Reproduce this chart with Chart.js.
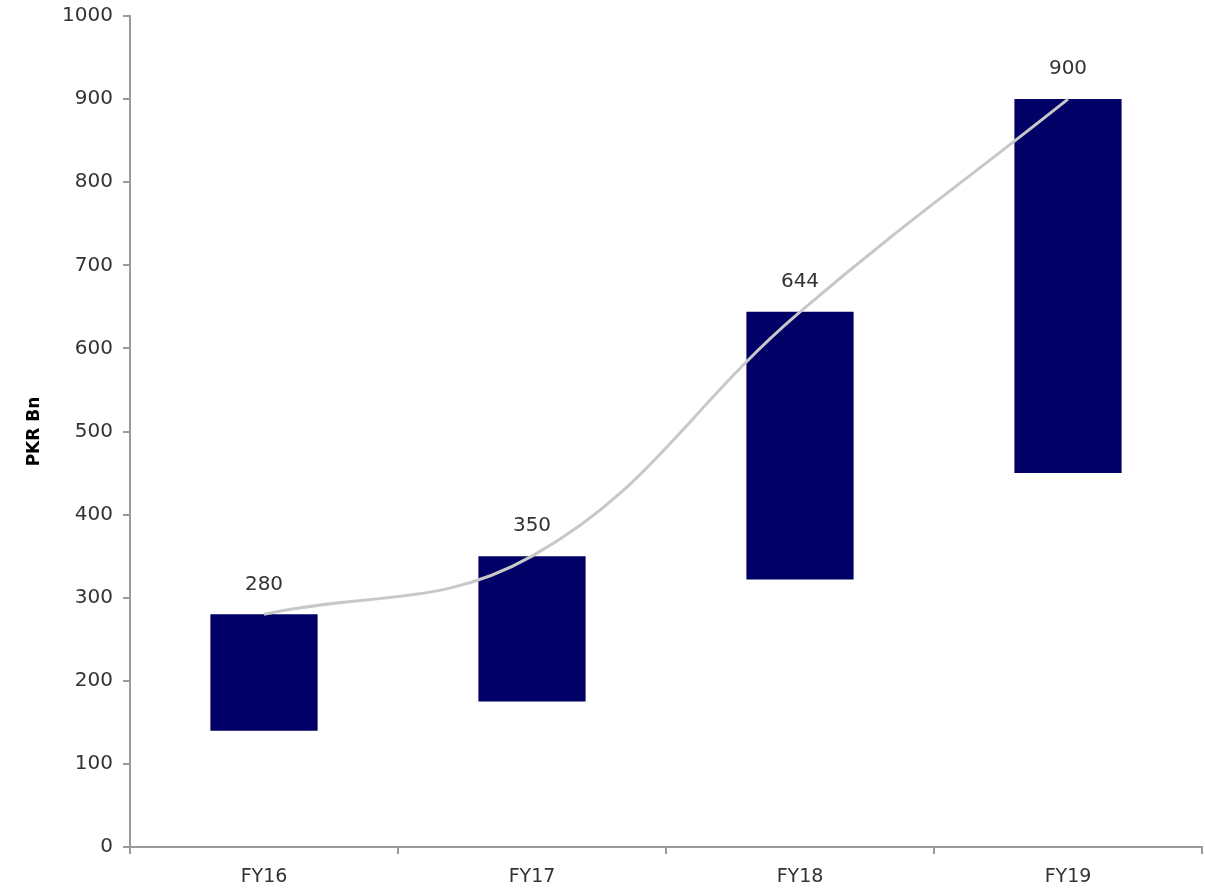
<!DOCTYPE html>
<html>
<head>
<meta charset="utf-8">
<script src="https://cdn.jsdelivr.net/npm/chart.js@4"></script>
<style>
  html, body { margin: 0; padding: 0; background: #fff; }
  #wrap { width: 1205px; height: 889px; }
</style>
</head>
<body>
<div id="wrap"><canvas id="fund"></canvas></div>
<script>
const years = ['FY16', 'FY17', 'FY18', 'FY19'];
const tops = [280, 350, 644, 900];
const bases = [140, 175, 322, 450];
const yTicks = [0, 100, 200, 300, 400, 500, 600, 700, 800, 900, 1000];

const axisGrey = '#9a9a9a';
const textGrey = '#333333';

// numbers over the floating bars
const topLabels = {
    id: 'topLabels',
    afterDatasetsDraw(chart) {
        const ctx = chart.ctx;
        const meta = chart.getDatasetMeta(1);
        ctx.save();
        ctx.font = '20px "DejaVu Sans"';
        ctx.fillStyle = textGrey;
        ctx.textAlign = 'center';
        ctx.textBaseline = 'middle';
        meta.data.forEach((bar, i) => {
            ctx.fillText(String(tops[i]), bar.x, bar.y - 30);
        });
        ctx.restore();
    }
};

const fund = new Chart(document.getElementById('fund').getContext('2d'), {
    type: 'bar',
    data: {
        labels: years,
        datasets: [{
            type: 'line',
            data: tops,
            borderColor: '#c8c8c8',
            borderWidth: 3,
            pointRadius: 0,
            tension: 0.4,
            order: 0
        }, {
            type: 'bar',
            data: tops.map((t, i) => [bases[i], t]),
            backgroundColor: '#000066',
            barPercentage: 0.4,
            categoryPercentage: 1,
            order: 1
        }]
    },
    options: {
        responsive: true,
        maintainAspectRatio: false,
        animation: false,
        layout: { padding: { top: 16, right: 3, left: 24, bottom: 0 } },
        plugins: {
            legend: { display: false },
            tooltip: { enabled: false }
        },
        scales: {
            x: {
                offset: true,
                border: { color: axisGrey, width: 2 },
                grid: { offset: true, drawOnChartArea: false, drawTicks: true, tickLength: 7, color: axisGrey, lineWidth: 2 },
                ticks: { color: textGrey, font: { family: 'DejaVu Sans', size: 19 }, padding: 12 },
                afterFit(scale) { scale.height = 42; }
            },
            y: {
                min: 0,
                max: 1000,
                afterBuildTicks(scale) { scale.ticks = yTicks.map(v => ({ value: v })); },
                border: { color: axisGrey, width: 2 },
                grid: { drawOnChartArea: false, drawTicks: true, tickLength: 7, color: axisGrey, lineWidth: 2 },
                ticks: {
                    color: textGrey,
                    font: { family: 'DejaVu Sans', size: 20 },
                    padding: 10,
                    callback: v => String(v)
                },
                title: {
                    display: true,
                    text: 'PKR Bn',
                    color: '#000',
                    font: { family: 'DejaVu Sans', size: 17, weight: 'bold' },
                    padding: { top: 0, bottom: 0 }
                },
                afterFit(scale) {
                    scale.width = 106;
                    scale.paddingTop = 0;
                    scale.paddingBottom = 0;
                }
            }
        }
    },
    plugins: [topLabels]
});
</script>
</body>
</html>
